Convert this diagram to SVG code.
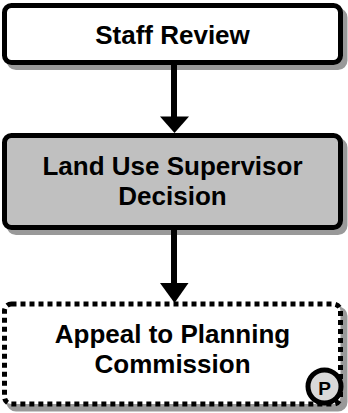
<svg xmlns="http://www.w3.org/2000/svg" width="348" height="413" viewBox="0 0 348 413">
  <style>
    .shadow { fill: #999999; stroke: #999999; stroke-width: 5; }
    .box { stroke: #000000; stroke-width: 5; }
    .label { font-family: "Liberation Sans", Arial, sans-serif; font-weight: bold; font-size: 26px; fill: #000000; text-anchor: middle; }
    .conn { stroke: #000000; stroke-width: 6; fill: none; }
    .head { fill: #000000; }
  </style>
  <rect width="348" height="413" fill="#ffffff"/>
  <g id="staff-review">
    <rect class="shadow" x="9" y="10.5" width="336" height="57" rx="7"/>
    <rect class="box" x="4.5" y="5.5" width="336" height="57" rx="7" fill="#ffffff"/>
    <text class="label" x="172.5" y="44">Staff Review</text>
  </g>
  <g id="land-use-supervisor-decision">
    <rect class="shadow" x="9" y="140.5" width="336" height="92" rx="7"/>
    <rect class="box" x="4.5" y="135.5" width="336" height="92" rx="7" fill="#c0c0c0"/>
    <text class="label" x="172.5" y="175">Land Use Supervisor</text>
    <text class="label" x="172.5" y="205">Decision</text>
  </g>
  <g id="appeal-to-planning-commission">
    <rect class="shadow" x="9" y="309" width="336" height="100" rx="7"/>
    <rect class="box" x="4.5" y="304" width="336" height="100" rx="7" fill="#ffffff" stroke-dasharray="5 4"/>
    <text class="label" x="172.5" y="343">Appeal to Planning</text>
    <text class="label" x="172.5" y="373">Commission</text>
    <circle cx="324.5" cy="386.5" r="16.5" fill="#d9d9d9" stroke="#000000" stroke-width="5"/>
    <text x="324.5" y="395" font-family="Liberation Sans, Arial, sans-serif" font-weight="bold" font-size="19px" text-anchor="middle" fill="#000000">P</text>
  </g>
  <g id="connectors">
    <line class="conn" x1="174" y1="65" x2="174" y2="118"/>
    <polygon class="head" points="160,116.5 189,116.5 174.5,133"/>
    <line class="conn" x1="174" y1="230" x2="174" y2="285"/>
    <polygon class="head" points="160,283 188.5,283 174.5,303"/>
  </g>
</svg>
